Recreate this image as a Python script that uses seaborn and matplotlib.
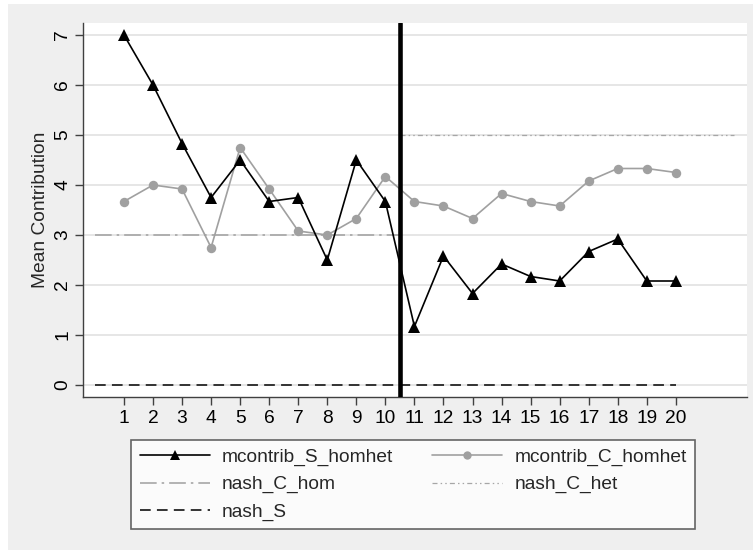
import matplotlib
matplotlib.use("Agg")
import matplotlib.pyplot as plt
from matplotlib.patches import Rectangle
from matplotlib.lines import Line2D
import seaborn as sns
import pandas as pd
import numpy as np

periods = list(range(1, 21))
mcontrib_S_homhet = [7.0, 6.0, 4.83, 3.75, 4.5, 3.67, 3.75, 2.5, 4.5, 3.67,
                     1.17, 2.58, 1.83, 2.42, 2.17, 2.08, 2.67, 2.92, 2.08, 2.08]
mcontrib_C_homhet = [3.67, 4.0, 3.92, 2.75, 4.75, 3.92, 3.08, 3.0, 3.33, 4.17,
                     3.67, 3.58, 3.33, 3.83, 3.67, 3.58, 4.08, 4.33, 4.33, 4.25]
nash_C_hom_x = [0, 10.5]
nash_C_hom_y = [3, 3]
nash_C_het_x = [10.5, 22]
nash_C_het_y = [5, 5]
nash_S_x = [0, 20]
nash_S_y = [0, 0]
break_x = 10.5
yticks = [0, 1, 2, 3, 4, 5, 6, 7]

sns.set_theme(style="white")
plt.rcParams['font.family'] = ['Liberation Sans', 'DejaVu Sans']

FS = 13.8
W, H = 753, 550
fig = plt.figure(figsize=(W / 100, H / 100), dpi=100)
fig.patch.set_facecolor('white')
fig.patches.append(Rectangle((8 / W, 0), 1 - 8 / W, 1 - 4 / H, transform=fig.transFigure,
                             facecolor='#efefef', edgecolor='none', zorder=-10))

ax = fig.add_axes([83 / W, 1 - 397 / H, (747 - 83) / W, (397 - 23) / H])
ax.set_facecolor('white')

df = pd.DataFrame({'period': periods, 'S': mcontrib_S_homhet, 'C': mcontrib_C_homhet})

for y in yticks:
    ax.axhline(y, color='#e6e6e6', lw=1.4, zorder=0)

ax.plot(nash_S_x, nash_S_y, color='#333333', lw=1.4, dashes=(5.5, 3.2), zorder=2)
ax.plot(nash_C_hom_x, nash_C_hom_y, color='#a6a6a6', lw=1.2,
        dashes=(10, 3, 1.5, 3), zorder=2)
ax.plot(nash_C_het_x, nash_C_het_y, color='#a6a6a6', lw=0.9,
        dashes=(4, 2.5, 1.2, 2.5, 1.2, 2.5), zorder=2)

sns.lineplot(data=df, x='period', y='C', ax=ax, color='#a0a0a0', lw=1.2,
             marker='o', markersize=6.8, markeredgewidth=0, zorder=3)
sns.lineplot(data=df, x='period', y='S', ax=ax, color='black', lw=1.2,
             marker='^', markersize=8.5, markeredgewidth=0, zorder=4)

ax.axvline(break_x, color='black', lw=3.3, zorder=5)

ax.set_xlim(-0.41, 22.45)
ax.set_ylim(-0.24, 7.24)
ax.set_xticks(periods)
ax.set_xticklabels([str(p) for p in periods], fontsize=FS)
ax.set_yticks(yticks)
ax.set_yticklabels([str(v) for v in yticks], fontsize=FS, rotation=90, va='center')
ax.set_xlabel('')
ax.set_ylabel('Mean Contribution', fontsize=FS, labelpad=4)
for s in ['top', 'right']:
    ax.spines[s].set_visible(False)
for s in ['left', 'bottom']:
    ax.spines[s].set_color('#404040')
    ax.spines[s].set_linewidth(1.0)
ax.tick_params(axis='both', which='both', direction='out', length=5.5, width=1.0,
               color='#404040', labelcolor='black', left=True, bottom=True)
ax.tick_params(axis='y', pad=3)
ax.tick_params(axis='x', pad=4)

handles = [
    Line2D([], [], color='black', lw=1.2, marker='^', markersize=7, markeredgewidth=0),
    Line2D([], [], color='#a0a0a0', lw=1.2, marker='o', markersize=6, markeredgewidth=0),
    Line2D([], [], color='#a6a6a6', lw=1.2, dashes=(10, 3, 1.5, 3)),
    Line2D([], [], color='#a6a6a6', lw=0.9, dashes=(4, 2.5, 1.2, 2.5, 1.2, 2.5)),
    Line2D([], [], color='#333333', lw=1.4, dashes=(5.5, 3.2)),
]
labels = ['mcontrib_S_homhet', 'mcontrib_C_homhet', 'nash_C_hom', 'nash_C_het', 'nash_S']
order = [0, 2, 4, 1, 3]
leg = fig.legend([handles[i] for i in order], [labels[i] for i in order], ncol=2,
                 loc='upper left', bbox_to_anchor=(131 / W, 1 - 440 / H),
                 fontsize=FS, frameon=True, fancybox=False, handlelength=3.66,
                 handletextpad=0.62, columnspacing=2.05, labelspacing=0.5,
                 borderpad=0.45, borderaxespad=0)
leg.get_frame().set_edgecolor('#404040')
leg.get_frame().set_linewidth(1.2)
leg.get_frame().set_facecolor('white')

fig.savefig('out.png', dpi=100, facecolor=fig.get_facecolor())
